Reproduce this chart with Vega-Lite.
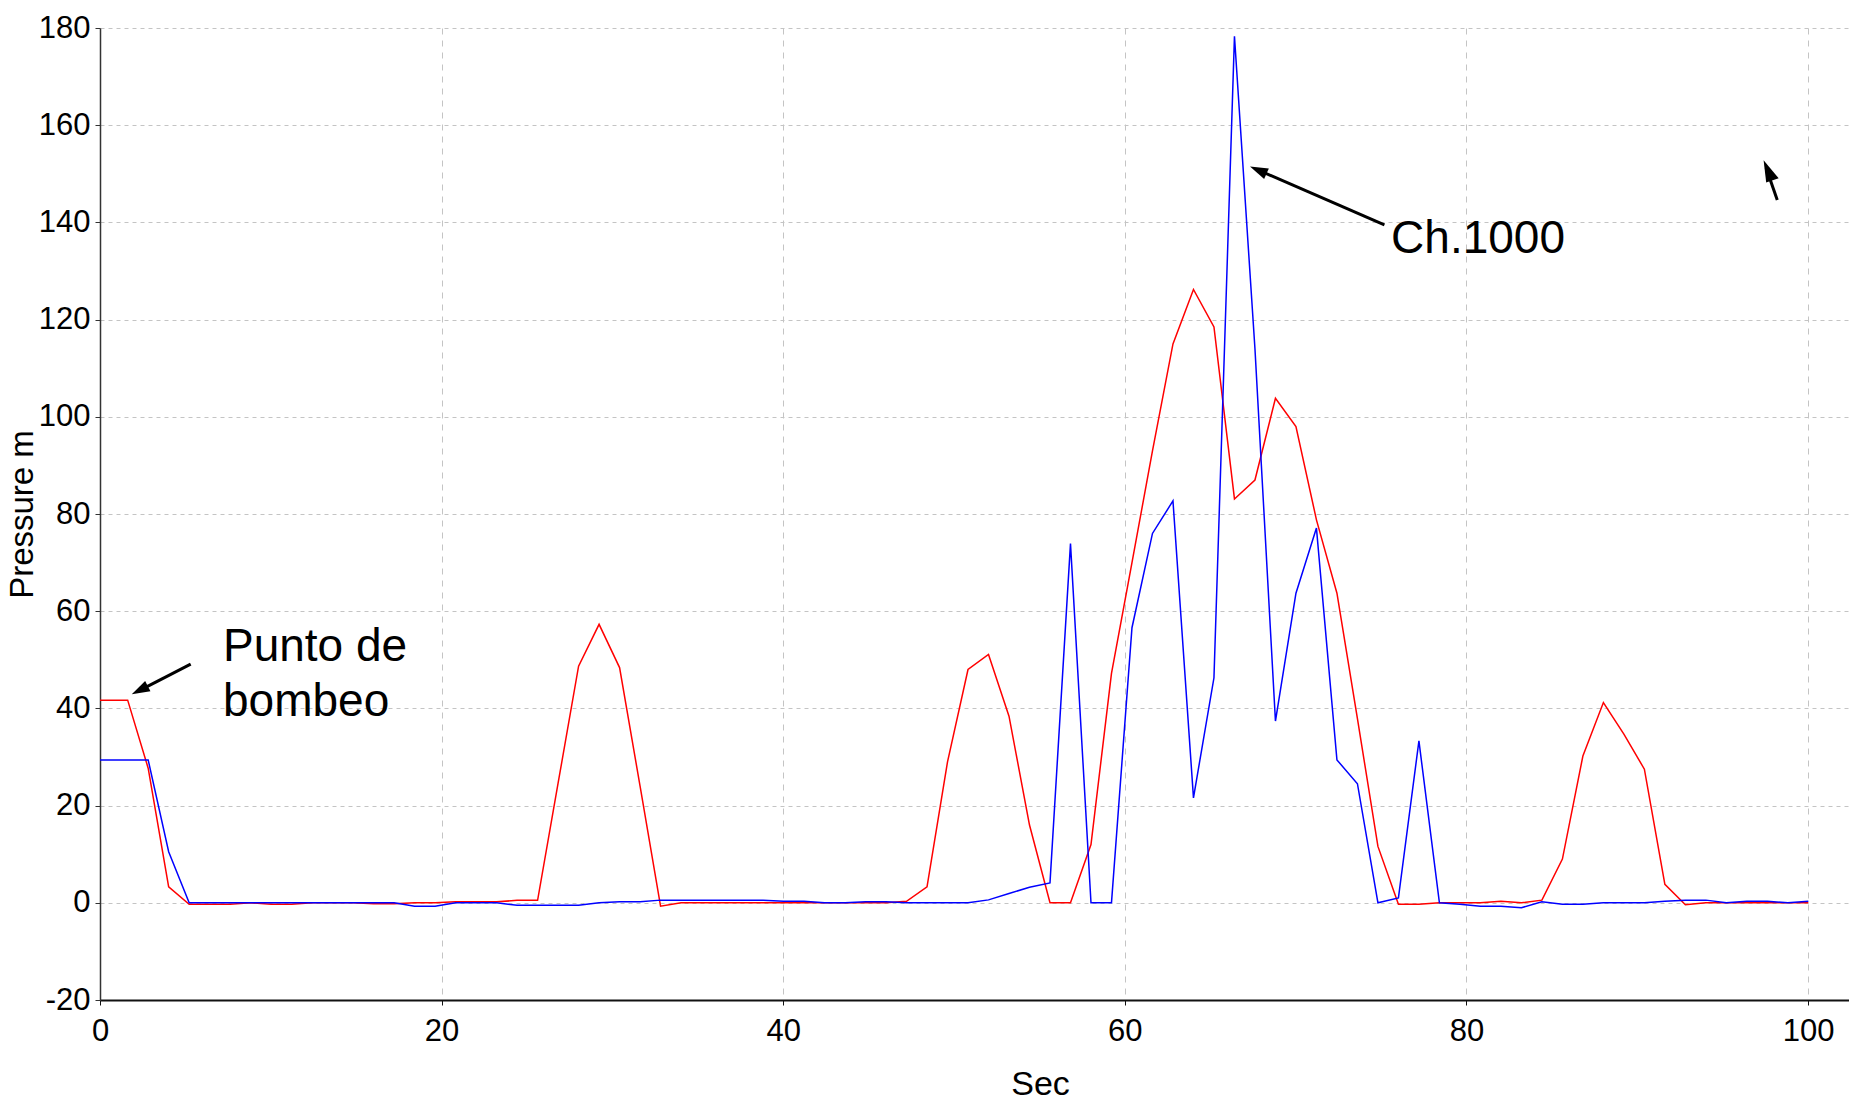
{
  "$schema": "https://vega.github.io/schema/vega-lite/v6.json",
  "width": 1749,
  "height": 972,
  "autosize": {"type": "none"},
  "padding": {"left": 100, "top": 28, "right": 0, "bottom": 104},
  "background": "white",
  "config": {"view": {"stroke": null}, "font": "Liberation Sans"},
  "datasets": {
    "series": [
      {"t": 0, "p": 41.7, "s": "Punto de bombeo"},
      {"t": 1.62, "p": 41.7, "s": "Punto de bombeo"},
      {"t": 2.82, "p": 27.7, "s": "Punto de bombeo"},
      {"t": 4.02, "p": 3.3, "s": "Punto de bombeo"},
      {"t": 5.22, "p": -0.3, "s": "Punto de bombeo"},
      {"t": 6.42, "p": -0.3, "s": "Punto de bombeo"},
      {"t": 7.62, "p": -0.3, "s": "Punto de bombeo"},
      {"t": 8.82, "p": 0, "s": "Punto de bombeo"},
      {"t": 10.02, "p": -0.3, "s": "Punto de bombeo"},
      {"t": 11.22, "p": -0.3, "s": "Punto de bombeo"},
      {"t": 12.42, "p": 0, "s": "Punto de bombeo"},
      {"t": 13.62, "p": 0, "s": "Punto de bombeo"},
      {"t": 14.82, "p": 0, "s": "Punto de bombeo"},
      {"t": 16.02, "p": -0.2, "s": "Punto de bombeo"},
      {"t": 17.22, "p": -0.2, "s": "Punto de bombeo"},
      {"t": 18.42, "p": 0, "s": "Punto de bombeo"},
      {"t": 19.62, "p": 0, "s": "Punto de bombeo"},
      {"t": 20.82, "p": 0.2, "s": "Punto de bombeo"},
      {"t": 22.02, "p": 0.2, "s": "Punto de bombeo"},
      {"t": 23.22, "p": 0.2, "s": "Punto de bombeo"},
      {"t": 24.42, "p": 0.5, "s": "Punto de bombeo"},
      {"t": 25.62, "p": 0.5, "s": "Punto de bombeo"},
      {"t": 26.82, "p": 24.6, "s": "Punto de bombeo"},
      {"t": 28.02, "p": 48.7, "s": "Punto de bombeo"},
      {"t": 29.22, "p": 57.3, "s": "Punto de bombeo"},
      {"t": 30.42, "p": 48.4, "s": "Punto de bombeo"},
      {"t": 31.62, "p": 24, "s": "Punto de bombeo"},
      {"t": 32.82, "p": -0.7, "s": "Punto de bombeo"},
      {"t": 34.02, "p": 0, "s": "Punto de bombeo"},
      {"t": 35.22, "p": 0, "s": "Punto de bombeo"},
      {"t": 36.42, "p": 0, "s": "Punto de bombeo"},
      {"t": 37.62, "p": 0, "s": "Punto de bombeo"},
      {"t": 38.82, "p": 0, "s": "Punto de bombeo"},
      {"t": 40.02, "p": 0, "s": "Punto de bombeo"},
      {"t": 41.22, "p": 0, "s": "Punto de bombeo"},
      {"t": 42.42, "p": 0, "s": "Punto de bombeo"},
      {"t": 43.62, "p": 0, "s": "Punto de bombeo"},
      {"t": 44.82, "p": 0, "s": "Punto de bombeo"},
      {"t": 46.02, "p": 0, "s": "Punto de bombeo"},
      {"t": 47.22, "p": 0.3, "s": "Punto de bombeo"},
      {"t": 48.42, "p": 3.3, "s": "Punto de bombeo"},
      {"t": 49.62, "p": 29, "s": "Punto de bombeo"},
      {"t": 50.82, "p": 48, "s": "Punto de bombeo"},
      {"t": 52.02, "p": 51.1, "s": "Punto de bombeo"},
      {"t": 53.22, "p": 38.4, "s": "Punto de bombeo"},
      {"t": 54.42, "p": 16, "s": "Punto de bombeo"},
      {"t": 55.62, "p": 0, "s": "Punto de bombeo"},
      {"t": 56.82, "p": 0, "s": "Punto de bombeo"},
      {"t": 58.02, "p": 12, "s": "Punto de bombeo"},
      {"t": 59.22, "p": 47.2, "s": "Punto de bombeo"},
      {"t": 60.42, "p": 70, "s": "Punto de bombeo"},
      {"t": 61.62, "p": 93, "s": "Punto de bombeo"},
      {"t": 62.82, "p": 115, "s": "Punto de bombeo"},
      {"t": 64.02, "p": 126.2, "s": "Punto de bombeo"},
      {"t": 65.22, "p": 118.5, "s": "Punto de bombeo"},
      {"t": 66.42, "p": 83.1, "s": "Punto de bombeo"},
      {"t": 67.62, "p": 87, "s": "Punto de bombeo"},
      {"t": 68.82, "p": 103.8, "s": "Punto de bombeo"},
      {"t": 70.02, "p": 98, "s": "Punto de bombeo"},
      {"t": 71.22, "p": 78.8, "s": "Punto de bombeo"},
      {"t": 72.42, "p": 63.7, "s": "Punto de bombeo"},
      {"t": 73.62, "p": 37.9, "s": "Punto de bombeo"},
      {"t": 74.82, "p": 11.6, "s": "Punto de bombeo"},
      {"t": 76.02, "p": -0.3, "s": "Punto de bombeo"},
      {"t": 77.22, "p": -0.3, "s": "Punto de bombeo"},
      {"t": 78.42, "p": 0, "s": "Punto de bombeo"},
      {"t": 79.62, "p": 0, "s": "Punto de bombeo"},
      {"t": 80.82, "p": 0, "s": "Punto de bombeo"},
      {"t": 82.02, "p": 0.3, "s": "Punto de bombeo"},
      {"t": 83.22, "p": 0, "s": "Punto de bombeo"},
      {"t": 84.42, "p": 0.55, "s": "Punto de bombeo"},
      {"t": 85.62, "p": 9, "s": "Punto de bombeo"},
      {"t": 86.82, "p": 30.2, "s": "Punto de bombeo"},
      {"t": 88.02, "p": 41.2, "s": "Punto de bombeo"},
      {"t": 89.22, "p": 34.7, "s": "Punto de bombeo"},
      {"t": 90.42, "p": 27.5, "s": "Punto de bombeo"},
      {"t": 91.62, "p": 3.8, "s": "Punto de bombeo"},
      {"t": 92.82, "p": -0.4, "s": "Punto de bombeo"},
      {"t": 94.02, "p": 0, "s": "Punto de bombeo"},
      {"t": 95.22, "p": 0, "s": "Punto de bombeo"},
      {"t": 96.42, "p": 0, "s": "Punto de bombeo"},
      {"t": 97.62, "p": 0, "s": "Punto de bombeo"},
      {"t": 98.82, "p": 0, "s": "Punto de bombeo"},
      {"t": 100.02, "p": 0, "s": "Punto de bombeo"},
      {"t": 0, "p": 29.4, "s": "Ch.1000"},
      {"t": 1.62, "p": 29.4, "s": "Ch.1000"},
      {"t": 2.82, "p": 29.4, "s": "Ch.1000"},
      {"t": 4.02, "p": 10.5, "s": "Ch.1000"},
      {"t": 5.22, "p": 0, "s": "Ch.1000"},
      {"t": 6.42, "p": 0, "s": "Ch.1000"},
      {"t": 7.62, "p": 0, "s": "Ch.1000"},
      {"t": 8.82, "p": 0, "s": "Ch.1000"},
      {"t": 10.02, "p": 0, "s": "Ch.1000"},
      {"t": 11.22, "p": 0, "s": "Ch.1000"},
      {"t": 12.42, "p": 0, "s": "Ch.1000"},
      {"t": 13.62, "p": 0, "s": "Ch.1000"},
      {"t": 14.82, "p": 0, "s": "Ch.1000"},
      {"t": 16.02, "p": 0, "s": "Ch.1000"},
      {"t": 17.22, "p": 0, "s": "Ch.1000"},
      {"t": 18.42, "p": -0.7, "s": "Ch.1000"},
      {"t": 19.62, "p": -0.7, "s": "Ch.1000"},
      {"t": 20.82, "p": 0, "s": "Ch.1000"},
      {"t": 22.02, "p": 0, "s": "Ch.1000"},
      {"t": 23.22, "p": 0, "s": "Ch.1000"},
      {"t": 24.42, "p": -0.5, "s": "Ch.1000"},
      {"t": 25.62, "p": -0.5, "s": "Ch.1000"},
      {"t": 26.82, "p": -0.5, "s": "Ch.1000"},
      {"t": 28.02, "p": -0.5, "s": "Ch.1000"},
      {"t": 29.22, "p": 0, "s": "Ch.1000"},
      {"t": 30.42, "p": 0.2, "s": "Ch.1000"},
      {"t": 31.62, "p": 0.2, "s": "Ch.1000"},
      {"t": 32.82, "p": 0.55, "s": "Ch.1000"},
      {"t": 34.02, "p": 0.55, "s": "Ch.1000"},
      {"t": 35.22, "p": 0.5, "s": "Ch.1000"},
      {"t": 36.42, "p": 0.5, "s": "Ch.1000"},
      {"t": 37.62, "p": 0.5, "s": "Ch.1000"},
      {"t": 38.82, "p": 0.5, "s": "Ch.1000"},
      {"t": 40.02, "p": 0.3, "s": "Ch.1000"},
      {"t": 41.22, "p": 0.3, "s": "Ch.1000"},
      {"t": 42.42, "p": 0, "s": "Ch.1000"},
      {"t": 43.62, "p": 0, "s": "Ch.1000"},
      {"t": 44.82, "p": 0.2, "s": "Ch.1000"},
      {"t": 46.02, "p": 0.2, "s": "Ch.1000"},
      {"t": 47.22, "p": 0, "s": "Ch.1000"},
      {"t": 48.42, "p": 0, "s": "Ch.1000"},
      {"t": 49.62, "p": 0, "s": "Ch.1000"},
      {"t": 50.82, "p": 0, "s": "Ch.1000"},
      {"t": 52.02, "p": 0.6, "s": "Ch.1000"},
      {"t": 53.22, "p": 1.9, "s": "Ch.1000"},
      {"t": 54.42, "p": 3.2, "s": "Ch.1000"},
      {"t": 55.62, "p": 4.1, "s": "Ch.1000"},
      {"t": 56.82, "p": 73.9, "s": "Ch.1000"},
      {"t": 58.02, "p": 0, "s": "Ch.1000"},
      {"t": 59.22, "p": 0, "s": "Ch.1000"},
      {"t": 60.42, "p": 56.6, "s": "Ch.1000"},
      {"t": 61.62, "p": 76, "s": "Ch.1000"},
      {"t": 62.82, "p": 82.7, "s": "Ch.1000"},
      {"t": 64.02, "p": 21.6, "s": "Ch.1000"},
      {"t": 65.22, "p": 46.3, "s": "Ch.1000"},
      {"t": 66.42, "p": 178.3, "s": "Ch.1000"},
      {"t": 67.62, "p": 114, "s": "Ch.1000"},
      {"t": 68.82, "p": 37.4, "s": "Ch.1000"},
      {"t": 70.02, "p": 63.7, "s": "Ch.1000"},
      {"t": 71.22, "p": 77.1, "s": "Ch.1000"},
      {"t": 72.42, "p": 29.4, "s": "Ch.1000"},
      {"t": 73.62, "p": 24.5, "s": "Ch.1000"},
      {"t": 74.82, "p": 0, "s": "Ch.1000"},
      {"t": 76.02, "p": 1.0, "s": "Ch.1000"},
      {"t": 77.22, "p": 33.3, "s": "Ch.1000"},
      {"t": 78.42, "p": 0, "s": "Ch.1000"},
      {"t": 79.62, "p": -0.3, "s": "Ch.1000"},
      {"t": 80.82, "p": -0.7, "s": "Ch.1000"},
      {"t": 82.02, "p": -0.7, "s": "Ch.1000"},
      {"t": 83.22, "p": -1.0, "s": "Ch.1000"},
      {"t": 84.42, "p": 0.2, "s": "Ch.1000"},
      {"t": 85.62, "p": -0.3, "s": "Ch.1000"},
      {"t": 86.82, "p": -0.3, "s": "Ch.1000"},
      {"t": 88.02, "p": 0, "s": "Ch.1000"},
      {"t": 89.22, "p": 0, "s": "Ch.1000"},
      {"t": 90.42, "p": 0, "s": "Ch.1000"},
      {"t": 91.62, "p": 0.3, "s": "Ch.1000"},
      {"t": 92.82, "p": 0.55, "s": "Ch.1000"},
      {"t": 94.02, "p": 0.55, "s": "Ch.1000"},
      {"t": 95.22, "p": 0, "s": "Ch.1000"},
      {"t": 96.42, "p": 0.3, "s": "Ch.1000"},
      {"t": 97.62, "p": 0.3, "s": "Ch.1000"},
      {"t": 98.82, "p": 0, "s": "Ch.1000"},
      {"t": 100.02, "p": 0.3, "s": "Ch.1000"}
    ],
    "notes": [
      {"label": "Punto de", "t": 7.2, "p": 49.7},
      {"label": "bombeo", "t": 7.2, "p": 38.4},
      {"label": "Ch.1000", "t": 75.59, "p": 133.65}
    ],
    "arrows": [
      {"id": "a", "t": 5.31, "p": 49.1, "t2": 2.27, "p2": 43.6},
      {"id": "b", "t": 75.2, "p": 139.5, "t2": 67.76, "p2": 150.85},
      {"id": "c", "t": 98.2, "p": 144.6, "t2": 97.55, "p2": 151.2}
    ],
    "heads": [
      {"id": "a", "t": 1.86, "p": 42.9},
      {"id": "b", "t": 67.33, "p": 151.5},
      {"id": "c", "t": 97.4, "p": 152.8}
    ]
  },
  "encoding": {
    "x": {
      "field": "t", "type": "quantitative",
      "scale": {"domain": [0, 102.4], "nice": false, "zero": false},
      "axis": {
        "values": [0, 20, 40, 60, 80, 100],
        "grid": true, "gridColor": "#c4c4c4", "gridDash": [6, 6], "gridWidth": 1,
        "domainColor": "#111111", "domainWidth": 2,
        "tickColor": "#111111", "tickSize": 5, "tickWidth": 1,
        "labelFont": "Liberation Sans",
        "labelFontSize": 31, "labelColor": "#000000", "labelPadding": 11, "labelFlush": false,
        "labelExpr": "datum.value < 0 ? '-' + abs(datum.value) : '' + datum.value",
        "title": "Sec",
        "titleFont": "Liberation Sans",
        "titleFontSize": 34, "titleFontWeight": "normal", "titleColor": "#000000",
        "titleX": 940, "titleY": 94, "titleAlign": "center", "titleBaseline": "alphabetic"
      }
    },
    "y": {
      "field": "p", "type": "quantitative",
      "scale": {"domain": [-20, 180], "nice": false, "zero": false},
      "axis": {
        "values": [-20, 0, 20, 40, 60, 80, 100, 120, 140, 160, 180],
        "grid": true, "gridColor": "#c4c4c4", "gridDash": [4, 4], "gridWidth": 1,
        "domainColor": "#333333", "domainWidth": 1.5,
        "tickColor": "#333333", "tickSize": 5, "tickWidth": 1,
        "labelFont": "Liberation Sans",
        "labelFontSize": 31, "labelColor": "#000000", "labelPadding": 5, "labelFlush": false,
        "labelExpr": "datum.value < 0 ? '-' + abs(datum.value) : '' + datum.value",
        "title": "Pressure m",
        "titleFont": "Liberation Sans", "titleFontSize": 33, "titleFontWeight": "normal", "titleColor": "#000000",
        "titleX": -78, "titleY": 486, "titleAngle": 270, "titleAlign": "center", "titleBaseline": "middle"
      }
    }
  },
  "layer": [
    {
      "data": {"name": "series"},
      "mark": {"type": "line", "strokeWidth": 1.5, "interpolate": "linear"},
      "encoding": {
        "color": {
          "field": "s", "type": "nominal",
          "scale": {"domain": ["Punto de bombeo", "Ch.1000"], "range": ["#ff0000", "#0000ff"]},
          "legend": null
        }
      }
    },
    {
      "data": {"name": "notes"},
      "mark": {"type": "text", "align": "left", "baseline": "alphabetic", "fontSize": 46, "font": "Liberation Sans", "color": "#000000"},
      "encoding": {
        "text": {"field": "label", "type": "nominal"}
      }
    },
    {
      "data": {"name": "arrows"},
      "mark": {"type": "rule", "strokeWidth": 3, "color": "#000000"},
      "encoding": {
        "x2": {"field": "t2"},
        "y2": {"field": "p2"}
      }
    },
    {
      "data": {"name": "heads"},
      "transform": [{"filter": "datum.id === 'a'"}],
      "mark": {"type": "point", "shape": "M0,0L0.65,2L-0.65,2Z", "filled": true, "color": "#000000", "opacity": 1, "size": 324, "angle": 243, "strokeWidth": 0}
    },
    {
      "data": {"name": "heads"},
      "transform": [{"filter": "datum.id === 'b'"}],
      "mark": {"type": "point", "shape": "M0,0L0.65,2L-0.65,2Z", "filled": true, "color": "#000000", "opacity": 1, "size": 324, "angle": 293.7, "strokeWidth": 0}
    },
    {
      "data": {"name": "heads"},
      "transform": [{"filter": "datum.id === 'c'"}],
      "mark": {"type": "point", "shape": "M0,0L0.75,2L-0.45,2Z", "filled": true, "color": "#000000", "opacity": 1, "size": 484, "angle": 340.7, "strokeWidth": 0}
    }
  ]
}
